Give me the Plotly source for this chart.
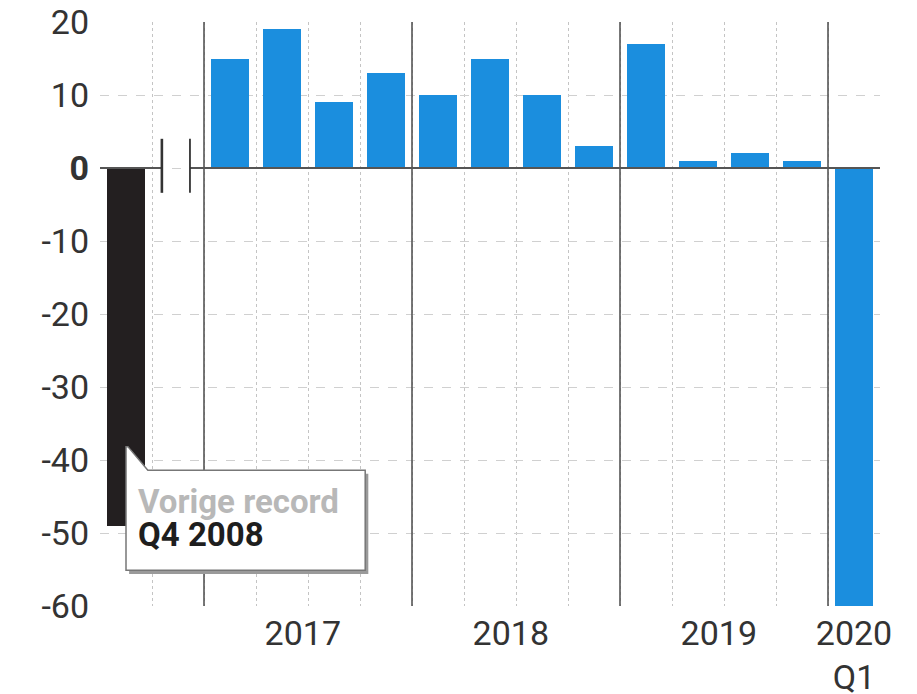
import plotly.graph_objects as go

# ---- data ----
periods = ["2008 Q4", "", "2017 Q1", "2017 Q2", "2017 Q3", "2017 Q4",
           "2018 Q1", "2018 Q2", "2018 Q3", "2018 Q4",
           "2019 Q1", "2019 Q2", "2019 Q3", "2019 Q4", "2020 Q1"]
values = [-49, None, 15, 19, 9, 13, 10, 15, 10, 3, 17, 1, 2, 1, -60]
year_labels = ["2017", "2018", "2019", "2020<br>Q1"]
y_ticks = [-60, -50, -40, -30, -20, -10, 0, 10, 20]
y_ticktext = ["-60", "-50", "-40", "-30", "-20", "-10", "<b>0</b>", "10", "20"]
note_lines = ["Vorige record", "Q4 2008"]

BLUE = "#1b8ede"
BLACK = "#231f20"
FONT = "Roboto"

xs = list(range(len(periods)))
colors = [BLACK if p.startswith("2008") else BLUE for p in periods]

fig = go.Figure()
fig.add_trace(go.Bar(x=xs, y=values, marker=dict(color=colors, line=dict(width=0)),
                     width=0.72, hoverinfo="skip"))

# year groups
years = {}
for i, p in enumerate(periods):
    if p and not p.startswith("2008"):
        years.setdefault(p[:4], []).append(i)
year_keys = sorted(years)
tickvals = []
for k in year_keys:
    idx = years[k]
    tickvals.append((idx[0] + idx[-1]) / 2 - 0.1 if k != "2020" else idx[-1])

shapes = []
# solid year separators
for k in year_keys:
    b = years[k][0] - 0.5
    shapes.append(dict(type="line", xref="x", yref="y", x0=b, x1=b, y0=-60, y1=20,
                       line=dict(color="#555555", width=1.6), layer="above"))
# zero line with break
brk = periods.index("")
shapes.append(dict(type="line", xref="x", yref="y", x0=-0.5, x1=brk - 0.31, y0=0, y1=0,
                   line=dict(color="#555555", width=2), layer="above"))
shapes.append(dict(type="line", xref="x", yref="y", x0=brk + 0.23, x1=len(periods) - 0.5,
                   y0=0, y1=0, line=dict(color="#555555", width=2), layer="above"))
for bx, w in [(brk - 0.31, 2.6), (brk + 0.23, 1.8)]:
    shapes.append(dict(type="line", xref="x", yref="y", x0=bx, x1=bx, y0=4.0, y1=-3.4,
                       line=dict(color="#333333", width=w), layer="above"))

# callout box (shadow + box)
def box_path(dx, dy):
    pts = [(0.04, -38.2), (0.42, -41.4), (4.6, -41.4), (4.6, -55.1), (0.0, -55.1), (0.0, -38.2)]
    return "M " + " L ".join(f"{x+dx},{y+dy}" for x, y in pts) + " Z"

shapes.append(dict(type="path", xref="x", yref="y", path=box_path(0.06, -0.5),
                   fillcolor="#9a9a9a", line=dict(width=0), layer="above"))
shapes.append(dict(type="path", xref="x", yref="y", path=box_path(0, 0),
                   fillcolor="white", line=dict(color="#777777", width=1.5), layer="above"))

fig.update_layout(shapes=shapes)

fig.add_annotation(x=0.2, y=-45.7, xref="x", yref="y", xanchor="left", yanchor="middle",
                   text=f"<b>{note_lines[0]}</b>", showarrow=False,
                   font=dict(family=FONT, size=33, color="#b8b8b8"))
fig.add_annotation(x=0.2, y=-50.2, xref="x", yref="y", xanchor="left", yanchor="middle",
                   text=f"<b>{note_lines[1]}</b>", showarrow=False,
                   font=dict(family=FONT, size=33, color="#1e1e1e"))

minor_vals = [i + 0.5 for i in range(len(periods))]
fig.update_xaxes(range=[-0.5, len(periods) - 0.5], tickmode="array", tickvals=tickvals,
                 ticktext=year_labels, showgrid=False, zeroline=False, showline=False,
                 ticks="", ticklabelstandoff=4, automargin=False, ticklabeloverflow="allow",
                 tickfont=dict(family=FONT, size=34, color="#333333"),
                 minor=dict(tickmode="array", tickvals=minor_vals, showgrid=True,
                            gridcolor="#c4c4c4", griddash="dot", gridwidth=1, ticks=""))
fig.update_yaxes(range=[-60, 20], tickmode="array", tickvals=y_ticks, ticktext=y_ticktext,
                 showgrid=True, gridcolor="#d0d0d0", griddash="dash", gridwidth=1,
                 zeroline=False, showline=False, ticks="", ticklabelstandoff=10,
                 automargin=False, ticklabeloverflow="allow",
                 tickfont=dict(family=FONT, size=34, color="#333333"))

# page body has an 8px default margin, so offset the figure accordingly
fig.update_layout(width=909, height=686, margin=dict(l=92, r=37, t=14, b=88),
                  plot_bgcolor="white", paper_bgcolor="white", showlegend=False,
                  bargap=0)

fig.write_html("out.html")
